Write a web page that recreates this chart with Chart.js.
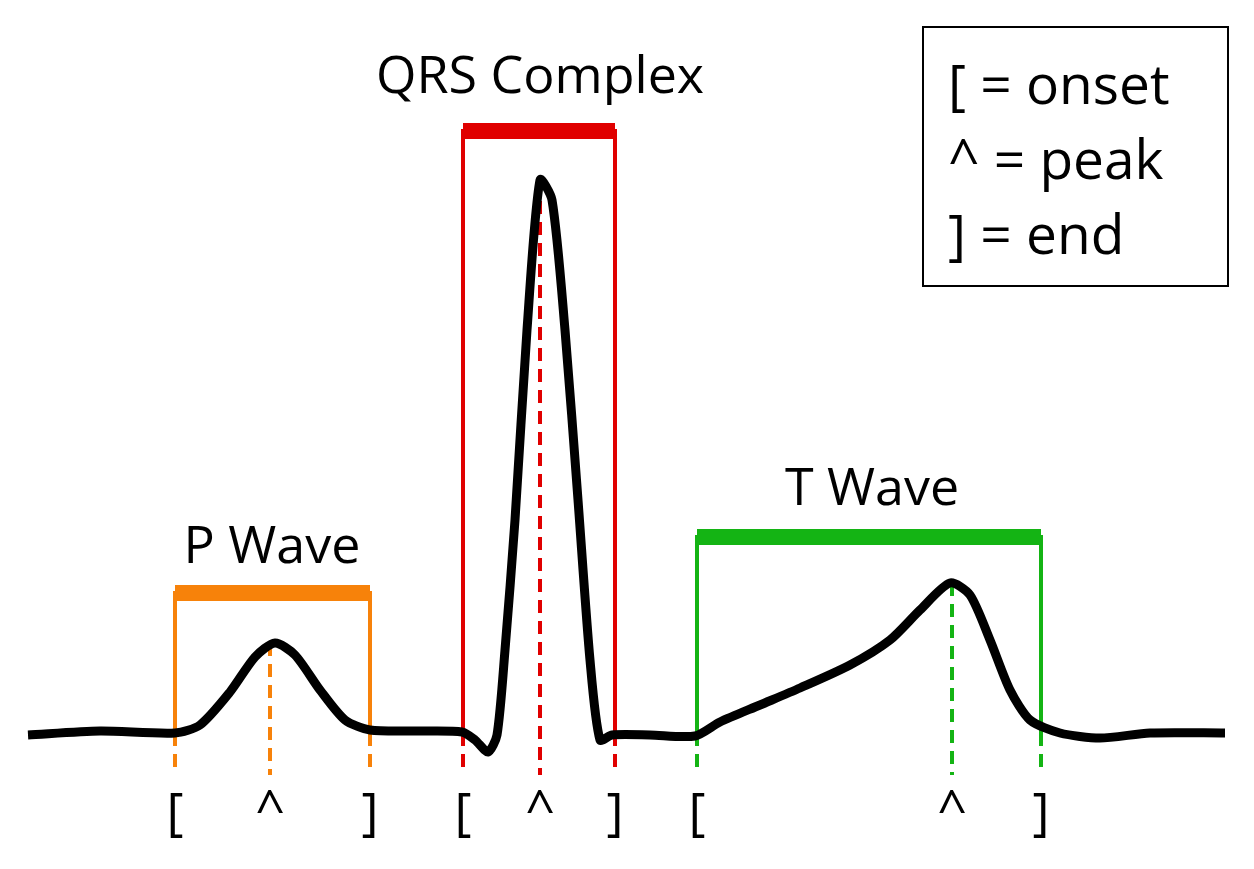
<!DOCTYPE html>
<html>
<head>
<meta charset="utf-8">
<script src="https://cdn.jsdelivr.net/npm/chart.js@4"></script>
<style>
  html, body { margin: 0; padding: 0; background: #fff; }
  #wrap { width: 1254px; height: 869px; position: relative; }
</style>
</head>
<body>
<div id="wrap"><canvas id="ecg"></canvas></div>
<script>
// ECG trace (time units, amplitude units; y grows downward like the picture)
const traceX = [28, 100, 175, 200, 230, 255, 275, 295, 320, 345, 370, 420, 462, 475, 488, 497, 505, 515, 527, 540, 552, 565, 578, 590, 600, 612, 650, 695, 720, 760, 800, 850, 890, 920, 950, 970, 990, 1010, 1030, 1060, 1100, 1150, 1225];
const traceY = [735, 731, 733, 725, 692, 657, 643, 655, 690, 720, 730, 731, 732, 740, 752, 735, 650, 520, 330, 180, 200, 330, 500, 660, 740, 735, 735, 736, 722, 705, 688, 665, 640, 610, 583, 595, 640, 690, 720, 733, 738, 733, 733];

// wave markers: onset, peak, end
const waveNames = ['P Wave', 'QRS Complex', 'T Wave'];
const onsets = [175, 463, 697];
const peaks = [270, 540, 952];
const ends = [370, 615, 1041];
const peakLevels = [643, 180, 583];
const barLevels = [593, 131, 537];
const waveColors = ['#f7820a', '#e00000', '#14b414'];

const baseline = 733;
const tickBottom = 775;

const datasets = [{
    data: traceX.map((x, i) => ({ x: x, y: traceY[i] })),
    borderColor: '#000',
    borderWidth: 9,
    tension: 0.25,
    pointRadius: 0,
    order: 0,
}];

waveNames.forEach((name, i) => {
    const c = waveColors[i];
    // bracket: two verticals and a thick top bar
    datasets.push({
        data: [{ x: onsets[i], y: baseline }, { x: onsets[i], y: barLevels[i] },
               { x: ends[i], y: barLevels[i] }, { x: ends[i], y: baseline }],
        borderColor: c, borderWidth: 4, pointRadius: 0, order: 2,
    });
    datasets.push({
        data: [{ x: onsets[i], y: barLevels[i] }, { x: ends[i], y: barLevels[i] }],
        borderColor: c, borderWidth: 16, pointRadius: 0, order: 2, borderCapStyle: 'butt',
    });
    // dashed ticks
    [[onsets[i], baseline], [peaks[i], peakLevels[i]], [ends[i], baseline]].forEach(([x, top]) => {
        datasets.push({
            data: [{ x: x, y: top }, { x: x, y: tickBottom }],
            borderColor: c, borderWidth: 4, borderDash: [13, 8], pointRadius: 0, order: 1,
        });
    });
});

const textPlugin = {
    id: 'ecgText',
    afterDraw(chart) {
        const { ctx, scales: { x, y } } = chart;
        ctx.save();
        ctx.fillStyle = '#000';
        ctx.textAlign = 'center';
        ctx.textBaseline = 'middle';
        ctx.font = '52px "Open Sans", sans-serif';
        const labelY = [548, 78, 490];
        const labelX = [272, 540, 872];
        waveNames.forEach((n, i) => {
            ctx.fillText(n, x.getPixelForValue(labelX[i]), y.getPixelForValue(labelY[i]));
            ctx.fillText('[', x.getPixelForValue(onsets[i]), y.getPixelForValue(815));
            ctx.fillText('^', x.getPixelForValue(peaks[i]), y.getPixelForValue(812));
            ctx.fillText(']', x.getPixelForValue(ends[i]), y.getPixelForValue(815));
        });
        // legend box
        ctx.lineWidth = 2;
        ctx.strokeStyle = '#000';
        ctx.strokeRect(923, 27, 305, 259);
        ctx.textAlign = 'left';
        ctx.font = '55px "Open Sans", sans-serif';
        ctx.fillText('[ = onset', 948, 88);
        ctx.fillText('^ = peak', 948, 163);
        ctx.fillText('] = end', 948, 238);
        ctx.restore();
    },
};

new Chart(document.getElementById('ecg'), {
    type: 'line',
    data: { datasets: datasets },
    options: {
        responsive: true,
        maintainAspectRatio: false,
        animation: false,
        layout: { padding: 0 },
        plugins: { legend: { display: false }, tooltip: { enabled: false } },
        scales: {
            x: { type: 'linear', min: 0, max: 1254, display: false },
            y: { type: 'linear', min: 0, max: 869, reverse: true, display: false },
        },
    },
    plugins: [textPlugin],
});
</script>
</body>
</html>
